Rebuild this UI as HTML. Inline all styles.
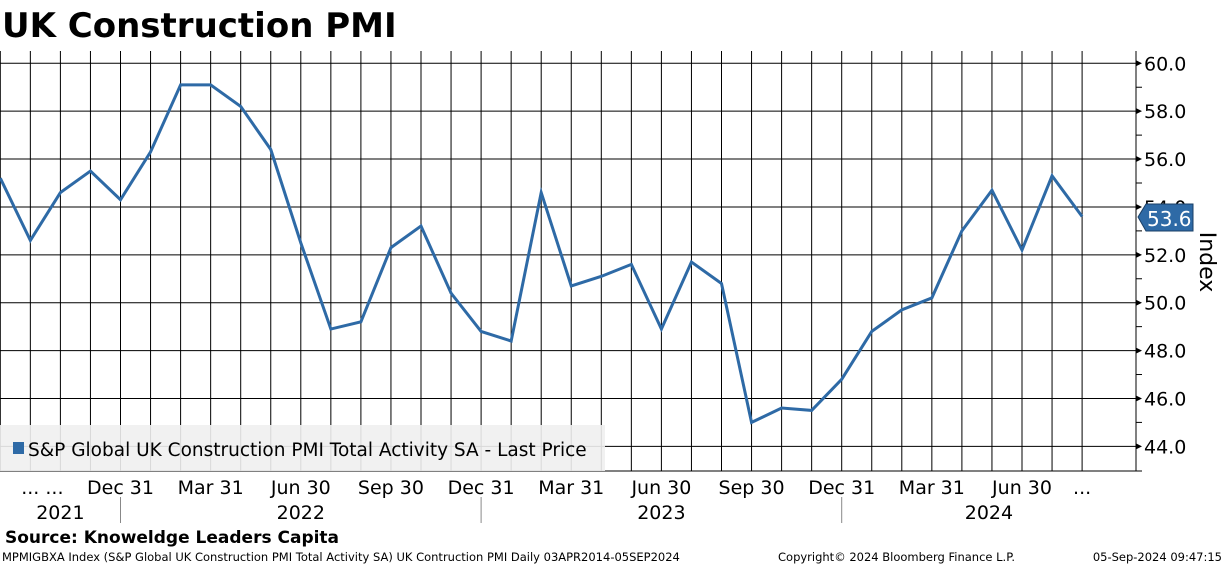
<!DOCTYPE html>
<html><head><meta charset="utf-8"><style>
body{margin:0;background:#fff;width:1224px;height:566px;overflow:hidden;font-family:"DejaVu Sans","Liberation Sans",sans-serif}
svg text{font-family:"DejaVu Sans","Liberation Sans",sans-serif}
</style></head><body>
<svg id="chart" width="1224" height="566" xmlns="http://www.w3.org/2000/svg">
<text x="2" y="37" font-size="34" font-weight="bold" style="font-family:'DejaVu Sans',sans-serif">UK Construction PMI</text>
<g id="grid"></g>
<g id="axes"></g>
<rect x="0" y="425" width="605" height="46" fill="#f0f0f0" opacity="0.9"/>
<rect x="13" y="442" width="11" height="12" fill="#2e6aa6"/>
<text x="28" y="456" font-size="18.5">S&amp;P Global UK Construction PMI Total Activity SA - Last Price</text>
<g id="series"></g>
<polygon points="1138,217 1146,204 1193,204 1193,231 1146,231" fill="#2e6aa6" stroke="#1a3f66"/>
<text x="1147" y="226" font-size="20" fill="#fff">53.6</text>
<text transform="translate(1200,262) rotate(90)" text-anchor="middle" font-size="22">Index</text>
<text x="5" y="543" font-size="17" font-weight="bold">Source: Knoweldge Leaders Capita</text>
<text x="2" y="561" font-size="11.5">MPMIGBXA Index (S&amp;P Global UK Construction PMI Total Activity SA) UK Contruction PMI  Daily 03APR2014-05SEP2024</text>
<text x="778" y="561" font-size="11.5">Copyright© 2024 Bloomberg Finance L.P.</text>
<text x="1222" y="561" font-size="11.5" text-anchor="end">05-Sep-2024 09:47:15</text>
</svg>
<script>
const values=[55.2,52.6,54.6,55.5,54.3,56.3,59.1,59.1,58.2,56.4,52.5,48.9,49.2,52.3,53.2,50.4,48.8,48.4,54.6,50.7,51.1,51.6,48.9,51.7,50.8,45.0,45.6,45.5,46.8,48.8,49.7,50.2,53.0,54.7,52.2,55.3,53.6];
const yTicks=[44,46,48,50,52,54,56,58,60];
const monthLabels=["... ...","Dec 31","Mar 31","Jun 30","Sep 30","Dec 31","Mar 31","Jun 30","Sep 30","Dec 31","Mar 31","Jun 30","..."];
const monthLabelIdx=[1.4,4,7,10,13,16,19,22,25,28,31,34,36];
const years=["2021","2022","2023","2024"];
const yearCenterIdx=[2,10,22,32.9];
const yearSepIdx=[4,16,28];
const NS="http://www.w3.org/2000/svg";
const X=i=>0.3+30.05*i;
const Y=v=>63.3+(60-v)*23.94;
function mk(t,a,p){const e=document.createElementNS(NS,t);for(const k in a)e.setAttribute(k,a[k]);p.appendChild(e);return e;}
const grid=document.getElementById('grid'),axes=document.getElementById('axes'),series=document.getElementById('series');
for(let i=0;i<values.length;i++){
 const l=mk('line',{x1:X(i),x2:X(i),y1:51,y2:471,stroke:'#000','stroke-width':1},grid);
 
 
}
yTicks.forEach(v=>{
 const l=mk('line',{x1:0,x2:1136,y1:Y(v),y2:Y(v),stroke:'#000','stroke-width':1},grid);
 
 
 const t=mk('text',{x:1144,y:Y(v)+7,'font-size':19},axes);t.textContent=v.toFixed(1);
 
 
 mk('polygon',{points:`1136,${Y(v)-3} 1142,${Y(v)} 1136,${Y(v)+3}`,fill:'#000'},axes);
 if(v<60){const m=mk('line',{x1:1136,x2:1142,y1:Y(v+1),y2:Y(v+1),stroke:'#000'},axes);
 
 }
});
mk('line',{x1:1136,x2:1136,y1:51,y2:471,stroke:'#000'},axes);
mk('line',{x1:0,x2:1142,y1:471,y2:471,stroke:'#000'},axes);
monthLabels.forEach((s,i)=>{
 const t=mk('text',{x:X(monthLabelIdx[i]),y:494,'font-size':19,'text-anchor':'middle'},axes);t.textContent=s;
 
 
});
years.forEach((s,i)=>{
 const t=mk('text',{x:X(yearCenterIdx[i]),y:519,'font-size':19,'text-anchor':'middle'},axes);t.textContent=s;
 
 
});
yearSepIdx.forEach(i=>{
 const l=mk('line',{x1:X(i),x2:X(i),y1:497,y2:523,stroke:'#888'},axes);
 
 
});
const p=mk('polyline',{points:values.map((v,i)=>X(i)+','+Y(v)).join(' '),fill:'none',stroke:'#2e6aa6','stroke-width':3,'stroke-linejoin':'miter'},series);


</script>
</body></html>
